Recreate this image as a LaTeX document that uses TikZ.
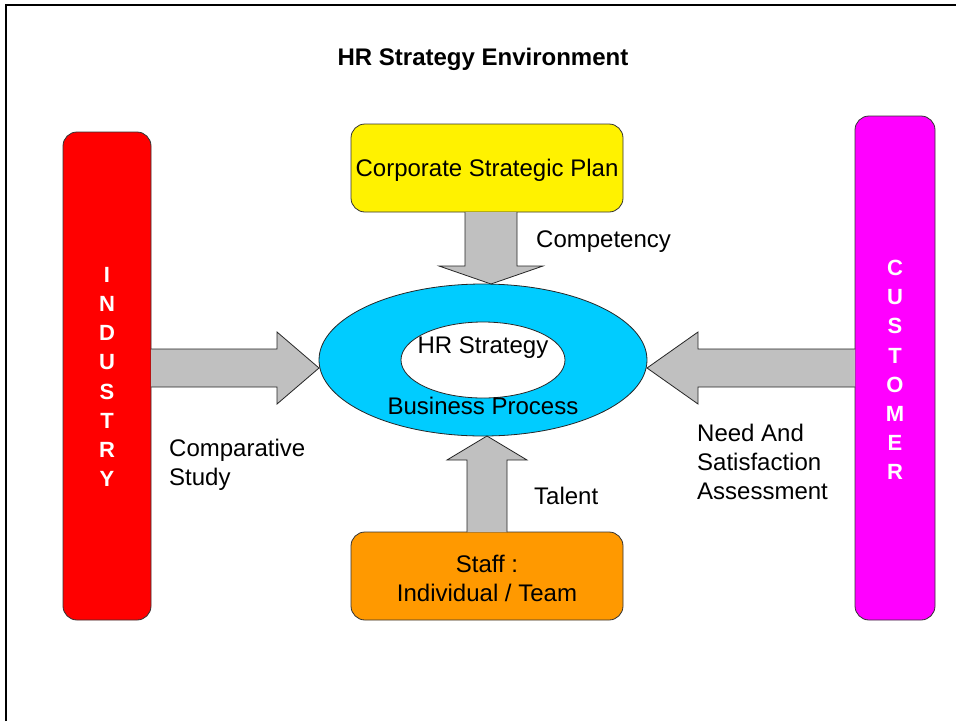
\documentclass[tikz,border=0pt]{standalone}
\usepackage{fontspec}
\setmainfont{Liberation Sans}
\usetikzlibrary{shapes.geometric}
\definecolor{arrowgray}{HTML}{C0C0C0}
\definecolor{ringblue}{HTML}{00CCFF}
\definecolor{staffor}{HTML}{FF9900}
\definecolor{custmag}{HTML}{FF00FF}
\tikzset{
  box/.style={draw=black!80, line width=0.8pt, rounded corners=14pt, inner sep=0pt},
  blockarrow/.style={draw=black!85, line width=0.8pt, fill=arrowgray, line join=miter},
  lbl/.style={inner sep=0pt, align=left, font=\fontsize{24}{29}\selectfont},
  vlet/.style={inner sep=0pt, align=center, text=white, font=\bfseries\fontsize{22}{29.2}\selectfont},
}
\begin{document}
\begin{tikzpicture}[x=1pt,y=-1pt]
\useasboundingbox (0,0) rectangle (956,721);
% frame
\draw[line width=2pt] (6,721) -- (6,5) -- (956,5);
% title
\node[inner sep=0pt, font=\bfseries\fontsize{24}{29}\selectfont] (title) at (483,59) {HR Strategy Environment};
% side bars
\path[box, fill=red] (63,132) rectangle (151,620);
\node[vlet] (ind) at (107,377) {I\\N\\D\\U\\S\\T\\R\\Y};
\path[box, fill=custmag] (855,116) rectangle (935,620);
\node[vlet] (cust) at (895,370) {C\\U\\S\\T\\O\\M\\E\\R};
% top and bottom boxes
\path[box, fill=yellow] (351,124) rectangle (623,212);
\node[lbl, align=center] (plan) at (487,170) {Corporate Strategic Plan};
\path[box, fill=staffor] (351,532) rectangle (623,620);
\node[lbl, align=center] (staff) at (487,578) {Staff :\\Individual / Team};
% ellipses
\node[draw=black!85, line width=0.8pt, fill=ringblue, ellipse, minimum width=328pt, minimum height=152pt, inner sep=0pt] (outer) at (483,360) {};
\node[draw=black!85, line width=0.8pt, fill=white, ellipse, minimum width=164pt, minimum height=76pt, inner sep=0pt] (inner) at (483,360) {};
\node[lbl] (hrs) at (483,348) {HR Strategy};
\node[lbl] (bp) at (483,406) {Business Process};
% block arrows
\draw[blockarrow] (151,349) -- (277,349) -- (277,332) -- (319,368) -- (277,404) -- (277,387) -- (151,387);
\draw[blockarrow] (855,349) -- (698,349) -- (698,332) -- (647,368) -- (698,404) -- (698,387) -- (855,387);
\draw[blockarrow] (465,212) -- (465,266) -- (439,266) -- (491,284) -- (543,266) -- (517,266) -- (517,212);
\draw[blockarrow] (467,532) -- (467,460) -- (447,460) -- (487,436) -- (527,460) -- (507,460) -- (507,532);
% labels
\node[lbl, anchor=west] (comp) at (536,242) {Competency};
\node[lbl, anchor=west] (tal) at (534,496) {Talent};
\node[lbl, anchor=west] (cs) at (169,465) {Comparative\\Study};
\node[lbl, anchor=west] (need) at (697,462) {Need And\\Satisfaction\\Assessment};
\end{tikzpicture}
\end{document}
